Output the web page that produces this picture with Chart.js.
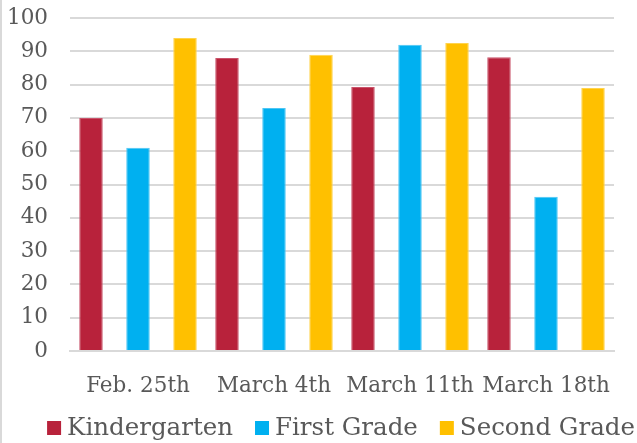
<!DOCTYPE html>
<html>
<head>
<meta charset="utf-8">
<script src="https://cdn.jsdelivr.net/npm/chart.js@4"></script>
<style>
  html, body { margin: 0; padding: 0; background: #fff; }
  #wrap { position: absolute; left: 0; top: 0; width: 637px; height: 443px; }
  #edge { position: absolute; left: 0; top: 0; width: 2px; height: 443px; background: #d9d9d9; }
  canvas { position: absolute; left: 0; top: 0; }
</style>
</head>
<body>
<div id="wrap"><canvas id="c" width="637" height="443"></canvas><div id="edge"></div></div>
<script>
const categories = ["Feb. 25th", "March 4th", "March 11th", "March 18th"];
const seriesNames = ["Kindergarten", "First Grade", "Second Grade"];
const kindergarten = [70, 88, 79.3, 88.2];
const firstGrade = [61, 73, 92, 46.3];
const secondGrade = [94, 89, 92.5, 79];
const yTicks = [0, 10, 20, 30, 40, 50, 60, 70, 80, 90, 100];

const colors = ["#B8223B", "#00B0F0", "#FFC000"];
const borders = ["#C9536A", "#4DC6F4", "#FFD34D"];
const values = [kindergarten, firstGrade, secondGrade];
const fontFam = "'DejaVu Serif', serif";

const bottomLegend = {
  id: 'bottomLegend',
  afterDraw(chart) {
    const ctx = chart.ctx;
    const size = 24.5, box = 14, gapText = 6, gapItem = 22, cy = 428, cx = 341;
    ctx.save();
    ctx.font = size + "px " + fontFam;
    ctx.textBaseline = 'middle';
    ctx.textAlign = 'left';
    const items = chart.data.datasets.map(ds => ({ label: ds.label, color: ds.backgroundColor, w: ctx.measureText(ds.label).width }));
    let total = 0;
    items.forEach((it, i) => { total += box + gapText + it.w + (i < items.length - 1 ? gapItem : 0); });
    let x = cx - total / 2;
    items.forEach(it => {
      ctx.fillStyle = it.color;
      ctx.fillRect(x, cy - box / 2, box, box);
      ctx.fillStyle = '#595959';
      ctx.fillText(it.label, x + box + gapText, cy + 1);
      x += box + gapText + it.w + gapItem;
    });
    ctx.restore();
  }
};

new Chart(document.getElementById('c'), {
  type: 'bar',
  data: {
    labels: categories,
    datasets: seriesNames.map((n, i) => ({
      label: n,
      data: values[i],
      backgroundColor: colors[i],
      borderColor: borders[i],
      borderWidth: 1,
      categoryPercentage: 1.037,
      barPercentage: 0.5
    }))
  },
  options: {
    responsive: false,
    animation: false,
    layout: { padding: { top: 18, right: 23, left: 0, bottom: 47 } },
    plugins: {
      tooltip: { enabled: false },
      legend: { display: false }
    },
    scales: {
      x: {
        grid: { display: false },
        border: { color: '#d9d9d9', width: 2 },
        afterFit: (axis) => { axis.height = 45; axis.paddingLeft = 0; axis.paddingRight = 0; },
        ticks: { font: { family: fontFam, size: 21.5 }, color: '#595959', padding: 15, maxRotation: 0, autoSkip: false }
      },
      y: {
        min: 0, max: 100,
        afterBuildTicks: (axis) => { axis.ticks = yTicks.map(v => ({ value: v })); },
        afterFit: (axis) => { axis.width = 70; axis.paddingTop = 0; axis.paddingBottom = 0; },
        grid: { color: '#d9d9d9', lineWidth: 2, drawTicks: false },
        border: { display: false },
        ticks: { font: { family: fontFam, size: 21.5 }, color: '#595959', padding: 22, autoSkip: false }
      }
    }
  },
  plugins: [bottomLegend]
});
</script>
</body>
</html>
